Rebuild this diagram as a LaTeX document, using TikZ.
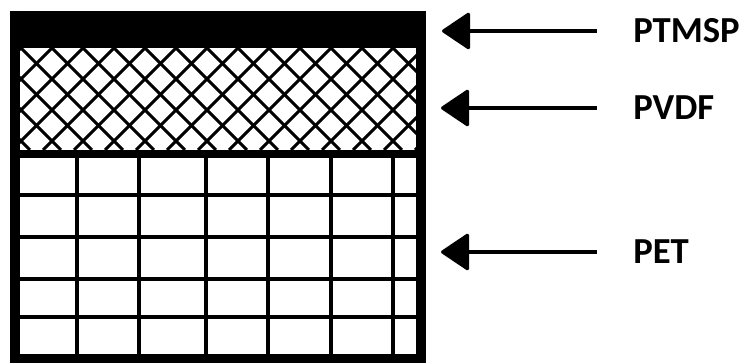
\documentclass[tikz,border=0pt]{standalone}
\usepackage{fontspec}
\setmainfont{Carlito}
\usetikzlibrary{arrows.meta, positioning}
\tikzset{
    layername/.style={anchor=west, inner sep=0pt, font=\fontsize{27.5}{30}\selectfont\bfseries},
    pointer/.style={line width=2.4pt, -{Triangle[length=22pt, width=29pt, round]}, shorten <=27pt},
    wall/.style={line width=7.5pt},
    gridline/.style={line width=3pt},
    hatch/.style={line width=2.2pt}
}
\begin{document}
\begin{tikzpicture}[x=0.75pt, y=-0.75pt]
    \useasboundingbox (0,0) rectangle (744,363);
    % PTMSP skin
    \fill (10,11) rectangle (426,48);
    % PVDF crosshatch
    \begin{scope}
        \clip (20,48) rectangle (416,150);
        \foreach \x in {-134,-103,...,560}{
            \draw[hatch] (\x,48) -- ++(102,102);
            \draw[hatch] (\x,48) -- ++(-102,102);
        }
    \end{scope}
    \fill (20,150) rectangle (416,158);
    % PET support grid
    \foreach \x in {77,139,206,268,331,393}
        \draw[gridline] (\x,158) -- (\x,355);
    \foreach \y in {195,237,279,317}
        \draw[gridline] (20,\y) -- (416,\y);
    % frame
    \draw[wall] (15,11) -- (15,359) -- (421,359) -- (421,11);

    \node[layername] (ptmsp) at (633,31) {PTMSP};
    \node[layername] (pvdf) at (633,108) {PVDF};
    \node[layername] (pet) at (633,252) {PET};
    \coordinate (ptmsp tip) at (442,31);
    \coordinate (pvdf tip) at (441,108);
    \coordinate (pet tip) at (441,252);
    \draw[pointer] (ptmsp.west) -- (ptmsp tip);
    \draw[pointer] (pvdf.west) -- (pvdf tip);
    \draw[pointer] (pet.west) -- (pet tip);
\end{tikzpicture}
\end{document}
